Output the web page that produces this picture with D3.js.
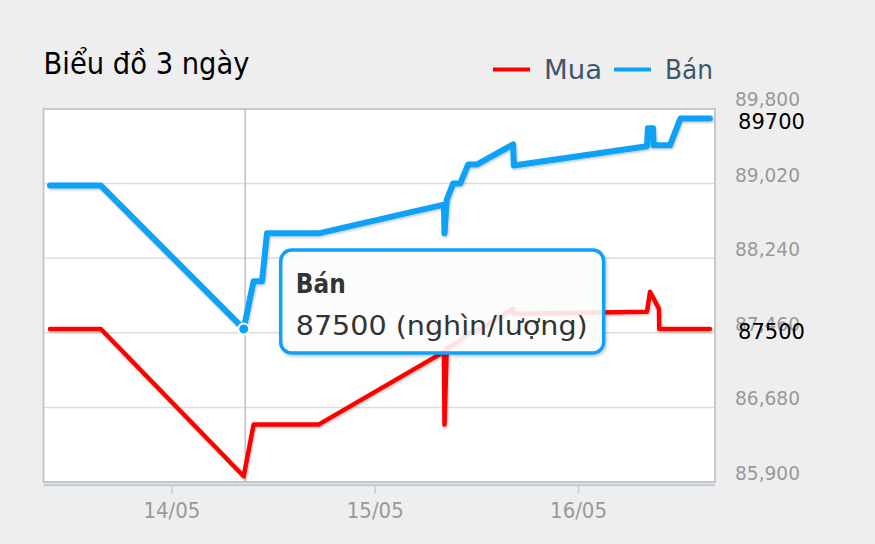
<!DOCTYPE html>
<html><head><meta charset="utf-8">
<script src="https://cdn.jsdelivr.net/npm/d3@7"></script>
<style>
html,body{margin:0;padding:0;background:#eeeeee;}
svg{display:block;font-family:"DejaVu Sans",sans-serif;}
</style></head>
<body>
<svg id="chart" width="875" height="544"></svg>
<script>
// ---- data ----
const title = "Biểu đồ 3 ngày";
const seriesNames = ["Mua", "Bán"];
const unitLabel = "(nghìn/lượng)";
const xTickLabels = ["14/05", "15/05", "16/05"];
const xDomainLabels = ["13/05 08:54", "16/05 16:10"];
const yTicks = [85900, 86680, 87460, 88240, 89020, 89800];

const buyTimes = ["13/05 09:40","13/05 15:40","14/05 08:32","14/05 09:42","14/05 17:22","15/05 08:10","15/05 08:14","15/05 08:30","15/05 09:15","15/05 10:05","15/05 11:02","15/05 12:05","15/05 16:20","15/05 16:25","16/05 08:08","16/05 08:30","16/05 09:33","16/05 09:35","16/05 15:34"];
const buyValues = [87500,87500,85960,86500,86500,87260,86500,87300,87330,87380,87460,87480,87710,87660,87680,87890,87710,87500,87500];

const sellTimes = ["13/05 09:40","13/05 15:40","14/05 08:32","14/05 09:42","14/05 10:42","14/05 11:17","14/05 17:22","15/05 08:10","15/05 08:14","15/05 08:30","15/05 09:15","15/05 10:05","15/05 11:02","15/05 12:05","15/05 16:20","15/05 16:25","16/05 08:08","16/05 08:15","16/05 08:51","16/05 08:55","16/05 10:51","16/05 12:05","16/05 15:34"];
const sellValues = [89000,89000,87500,88000,88000,88500,88500,88800,88500,88850,89020,89020,89220,89220,89430,89210,89410,89600,89600,89420,89420,89700,89700];

const hoverIndex = 2; // hovered point of "Bán"

// ---- setup ----
const parse = d3.timeParse("%d/%m %H:%M");
const parseDay = d3.timeParse("%d/%m");
const buy = buyTimes.map((t,i)=>({t:parse(t), v:buyValues[i]}));
const sell = sellTimes.map((t,i)=>({t:parse(t), v:sellValues[i]}));

const plot = {l:43.5, r:715, t:109, b:482};
const x = d3.scaleTime().domain(xDomainLabels.map(parse)).range([plot.l, plot.r]);
const y = d3.scaleLinear().domain([yTicks[0], yTicks[yTicks.length-1]]).range([plot.b, plot.t]);

const svg = d3.select("#chart");
const defs = svg.append("defs");
const sh = defs.append("filter").attr("id","shadow").attr("x","-10%").attr("y","-10%").attr("width","120%").attr("height","130%");
sh.append("feDropShadow").attr("dx",1).attr("dy",1.5).attr("stdDeviation",1).attr("flood-color","#000").attr("flood-opacity",0.22);
const sh2 = defs.append("filter").attr("id","tshadow").attr("x","-10%").attr("y","-10%").attr("width","120%").attr("height","130%");
sh2.append("feDropShadow").attr("dx",1.5).attr("dy",2).attr("stdDeviation",1.5).attr("flood-color","#000").attr("flood-opacity",0.2);
const clip = defs.append("clipPath").attr("id","clip");
clip.append("rect").attr("x",plot.l).attr("y",plot.t-5).attr("width",plot.r-plot.l).attr("height",plot.b-plot.t+5);

function txt(g, str, xx, yy, size, len, opts={}) {
  const t = g.append("text").attr("x",xx).attr("y",yy).attr("font-size",size).text(str)
    .attr("fill", opts.fill || "#333");
  if (opts.weight) t.attr("font-weight", opts.weight);
  if (opts.anchor) t.attr("text-anchor", opts.anchor);
  if (len) t.attr("textLength", len).attr("lengthAdjust","spacingAndGlyphs");
  return t;
}

// title
txt(svg, title, 43.5, 74, 30, 206, {fill:"#000"});

// legend
const legendColors = ["#ff0000", "#0aa2f7"];
const legendX = [493, 614];
const legendW = [58, 48];
seriesNames.forEach((n,i)=>{
  svg.append("line").attr("x1",legendX[i]).attr("x2",legendX[i]+37).attr("y1",69.5).attr("y2",69.5)
    .attr("stroke",legendColors[i]).attr("stroke-width",4);
  txt(svg, n, legendX[i]+51, 79, 26, legendW[i], {fill:"#3e576f"});
});

// plot background + shadow
svg.append("rect").attr("x",plot.l+1).attr("y",plot.t+1).attr("width",plot.r-plot.l).attr("height",plot.b-plot.t)
  .attr("fill","#d6dde4").attr("opacity",0.6);
svg.append("rect").attr("x",plot.l).attr("y",plot.t).attr("width",plot.r-plot.l).attr("height",plot.b-plot.t)
  .attr("fill","#fff");

// grid
svg.append("g").selectAll("line").data(yTicks.slice(1,-1)).join("line")
  .attr("x1",plot.l).attr("x2",plot.r).attr("y1",d=>y(d)).attr("y2",d=>y(d))
  .attr("stroke","#dddddd").attr("stroke-width",1.5);

// x axis (bottom)
const xTicks = xTickLabels.map(parseDay);
const axisG = svg.append("g").attr("transform",`translate(0,${plot.b+3})`)
  .call(d3.axisBottom(x).tickValues(xTicks).tickSize(9).tickFormat((d,i)=>xTickLabels[i]));
axisG.select(".domain").attr("stroke","#c0d0e0").attr("stroke-width",2.5).attr("d",`M${plot.l},0H${plot.r}`);
axisG.selectAll(".tick line").attr("stroke","#c0d0e0").attr("stroke-width",1.5);
axisG.selectAll(".tick text").attr("font-size",21).attr("fill","#999").attr("dy",0).attr("y",32.5)
  .attr("font-family","DejaVu Sans, sans-serif")
  .attr("textLength",57).attr("lengthAdjust","spacingAndGlyphs");

// y axis right (labels only)
const fmt = d3.format(",");
const yAxisG = svg.append("g").attr("transform",`translate(${plot.r},0)`)
  .call(d3.axisRight(y).tickValues(yTicks).tickSize(0).tickFormat(fmt));
yAxisG.select(".domain").remove();
yAxisG.selectAll(".tick text").attr("font-size",19).attr("fill","#999").attr("x",20)
  .attr("dy",(d,i)=> i===yTicks.length-1 ? -3.5 : -2.5)
  .attr("dominant-baseline","auto").attr("font-family","DejaVu Sans, sans-serif")
  .attr("textLength",65).attr("lengthAdjust","spacingAndGlyphs");

// plot border
svg.append("rect").attr("x",plot.l).attr("y",plot.t).attr("width",plot.r-plot.l).attr("height",plot.b-plot.t)
  .attr("fill","none").attr("stroke","#c8c8c8").attr("stroke-width",2);

// crosshair
const hp = sell[hoverIndex];
svg.append("line").attr("x1",x(hp.t)+1.5).attr("x2",x(hp.t)+1.5).attr("y1",plot.t).attr("y2",plot.b)
  .attr("stroke","#c0c0c0").attr("stroke-width",1.5);

// lines
const line = d3.line().x(d=>x(d.t)).y(d=>y(d.v));
const lg = svg.append("g").attr("clip-path","url(#clip)");
lg.append("path").datum(buy).attr("d",line).attr("fill","none").attr("stroke",legendColors[0])
  .attr("stroke-width",4.5).attr("stroke-linejoin","round").attr("stroke-linecap","round").attr("filter","url(#shadow)");
lg.append("path").datum(sell).attr("d",line).attr("fill","none").attr("stroke",legendColors[1])
  .attr("stroke-width",6).attr("stroke-linejoin","round").attr("stroke-linecap","round").attr("filter","url(#shadow)");

// last value labels
[buy[buy.length-1], sell[sell.length-1]].forEach(p=>{
  txt(svg, String(p.v), 738, y(p.v)+10, 21, 67, {fill:"#000"});
});

// hover marker
svg.append("circle").attr("cx",x(hp.t)).attr("cy",y(hp.v)).attr("r",5.5)
  .attr("fill",legendColors[1]).attr("stroke","#fff").attr("stroke-width",2);

// tooltip
const tx = x(hp.t)+37, ty = y(hp.v)-79;
const tg = svg.append("g");
tg.append("rect").attr("x",tx).attr("y",ty).attr("width",323).attr("height",103).attr("rx",11).attr("ry",11)
  .attr("fill","#fff").attr("fill-opacity",0.87).attr("stroke",legendColors[1]).attr("stroke-width",3.5)
  .attr("filter","url(#tshadow)");
txt(tg, seriesNames[1], tx+15, ty+43, 27, 50, {fill:"#333", weight:"bold"});
txt(tg, hp.v + " " + unitLabel, tx+15, ty+85, 27, 292, {fill:"#333"});
</script>
</body></html>
